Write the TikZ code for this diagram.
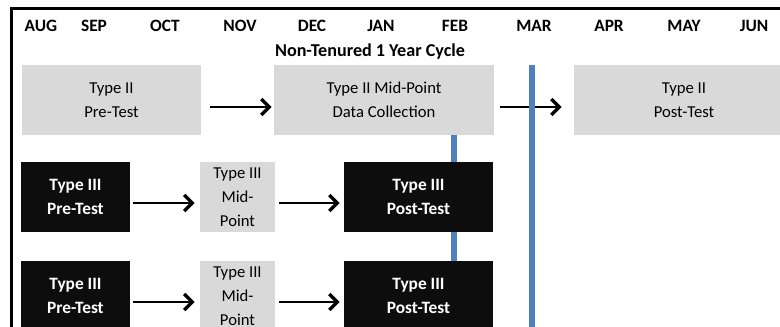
\documentclass[tikz,border=0pt]{standalone}
\usepackage{fontspec}
\setmainfont{Carlito}
\usetikzlibrary{arrows.meta}
\definecolor{boxgray}{HTML}{D9D9D9}
\definecolor{boxblack}{HTML}{0D0D0D}
\definecolor{lineblue}{HTML}{4F81BD}
\tikzset{
  base/.style={inner sep=0pt, align=center, minimum height=52.5pt,
    font=\fontsize{12.5}{18}\selectfont},
  graybox/.style={base, fill=boxgray, text=black},
  blackbox/.style={base, fill=boxblack, text=white, font=\fontsize{13}{18.5}\selectfont\bfseries},
  month/.style={inner sep=0pt, font=\fontsize{13}{15}\selectfont\bfseries},
  flow/.style={-{Straight Barb[length=6pt,width=12pt,line width=2.6pt]}, line width=1.6pt, black},
  blueline/.style={draw=lineblue, line width=4.5pt},
  frame/.style={line width=2.2pt, black}
}
\begin{document}
\begin{tikzpicture}[x=0.75pt,y=-0.75pt]
\useasboundingbox (0,0) rectangle (780,327);
\clip (0,0) rectangle (780,327);
% frame
\coordinate (ftl) at (10,8.6);
\coordinate (ftr) at (780,8.6);
\coordinate (flt) at (11.4,7.5);
\coordinate (flb) at (11.4,330);
\draw[frame] (ftl) -- (ftr);
\draw[frame] (flt) -- (flb);
% months
\node[month] (aug) at (41,26) {AUG};
\node[month] (sep) at (94,26) {SEP};
\node[month] (oct) at (165,26) {OCT};
\node[month] (nov) at (240,26) {NOV};
\node[month] (dec) at (312,26) {DEC};
\node[month] (jan) at (381,26) {JAN};
\node[month] (feb) at (455,26) {FEB};
\node[month] (mar) at (534,26) {MAR};
\node[month] (apr) at (609,26) {APR};
\node[month] (may) at (684,26) {MAY};
\node[month] (jun) at (754,26) {JUN};
\node[month, font=\fontsize{13.6}{15}\selectfont\bfseries] (title) at (370,52) {Non-Tenured 1 Year Cycle};
% row 1
\node[graybox, minimum width=134.25pt] (pre2) at (111.5,100) {Type II\\Pre-Test};
\node[graybox, minimum width=165pt] (mid2) at (384,100) {Type II Mid-Point\\Data Collection};
\node[graybox, minimum width=165pt] (post2) at (684,100) {Type II\\Post-Test};
% row 2
\node[blackbox, minimum width=81.75pt] (pre3a) at (75.5,197) {Type III\\Pre-Test};
\node[graybox, minimum width=56.25pt] (mid3a) at (237.5,197) {Type III\\Mid-\\Point};
\node[blackbox, minimum width=111.75pt] (post3a) at (418.5,197) {Type III\\Post-Test};
% row 3
\node[blackbox, minimum width=81.75pt] (pre3b) at (75.5,296) {Type III\\Pre-Test};
\node[graybox, minimum width=56.25pt] (mid3b) at (237.5,296) {Type III\\Mid-\\Point};
\node[blackbox, minimum width=111.75pt] (post3b) at (418.5,296) {Type III\\Post-Test};
% arrows
\draw[flow, shorten <=6.5pt, shorten >=1.5pt] ([yshift=-5.25pt]pre2.east) -- ([yshift=-5.25pt]mid2.west);
\draw[flow, shorten <=4.5pt, shorten >=9pt] ([yshift=-5.25pt]mid2.east) -- ([yshift=-5.25pt]post2.west);
\draw[flow, shorten <=2.2pt, shorten >=3.8pt] ([yshift=-4.5pt]pre3a.east) -- ([yshift=-4.5pt]mid3a.west);
\draw[flow, shorten <=3pt, shorten >=3pt] ([yshift=-4.5pt]mid3a.east) -- ([yshift=-4.5pt]post3a.west);
\draw[flow, shorten <=2.2pt, shorten >=3.8pt] ([yshift=-4.5pt]pre3b.east) -- ([yshift=-4.5pt]mid3b.west);
\draw[flow, shorten <=3pt, shorten >=3pt] ([yshift=-4.5pt]mid3b.east) -- ([yshift=-4.5pt]post3b.west);
% blue lines
\coordinate (bx) at (454,0);
\coordinate (bluetop) at (532,65);
\coordinate (bluebot) at (532,330);
\draw[blueline] (bluetop) -- (bluebot);
\draw[blueline] (mid2.south -| bx) -- (post3a.north -| bx);
\draw[blueline] (post3a.south -| bx) -- (post3b.north -| bx);
\end{tikzpicture}
\end{document}
